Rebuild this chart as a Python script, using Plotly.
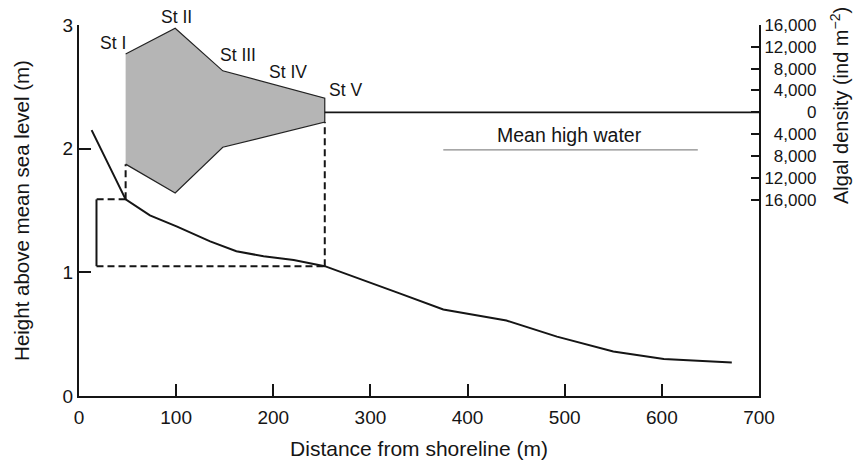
import plotly.graph_objects as go

# ---- data ----
distance = [13, 48, 73, 101, 135, 162, 190, 221, 253, 289, 330, 375, 440, 492, 550, 602, 672]
height = [2.15, 1.59, 1.46, 1.37, 1.25, 1.17, 1.13, 1.10, 1.05, 0.95, 0.83, 0.70, 0.61, 0.48, 0.36, 0.30, 0.27]

stations = ["St I", "St II", "St III", "St IV", "St V"]
station_x = [48, 99, 148, 200, 253]
density_upper = [10700, 15400, 7600, 5100, 2600]
density_lower = [9500, 14800, 6400, 4100, 1800]

mhw_x = [375, 637]
mhw_height = 1.99
bracket_x = 18

x_ticks = [0, 100, 200, 300, 400, 500, 600, 700]
height_ticks = [0, 1, 2, 3]
density_ticks = [16000, 12000, 8000, 4000, 0, -4000, -8000, -12000, -16000]
density_labels = ["16,000", "12,000", "\u20078,000", "\u20074,000", "\u2007\u2007\u2008\u2007\u20070",
                  "\u20074,000", "\u20078,000", "12,000", "16,000"]

HEIGHT_RANGE = [0, 3]
DENSITY_RANGE = [-52000, 16000]
X_RANGE = [0, 700]

FONT = "Liberation Sans, Arial, sans-serif"
INK = "#151515"


def density_to_height(d):
    """Map a density value on the right axis to the left (height) axis scale."""
    return HEIGHT_RANGE[0] + (d - DENSITY_RANGE[0]) / (DENSITY_RANGE[1] - DENSITY_RANGE[0]) * (
        HEIGHT_RANGE[1] - HEIGHT_RANGE[0])


fig = go.Figure()

# density polygon (upper positive, lower mirrored)
poly_x = station_x + station_x[::-1]
poly_y = density_upper + [-v for v in density_lower[::-1]]
fig.add_trace(go.Scatter(x=poly_x, y=poly_y, yaxis="y2", fill="toself", mode="lines",
                         fillcolor="#b5b5b5", line=dict(color="#222222", width=1.2),
                         hoverinfo="skip", showlegend=False))

# zero line of density axis from St V to right axis
fig.add_trace(go.Scatter(x=[station_x[-1], X_RANGE[1]], y=[0, 0], yaxis="y2", mode="lines",
                         line=dict(color=INK, width=1.8), hoverinfo="skip", showlegend=False))

# profile
fig.add_trace(go.Scatter(x=distance, y=height, mode="lines",
                         line=dict(color=INK, width=2), showlegend=False))

# mean high water line
fig.add_trace(go.Scatter(x=mhw_x, y=[mhw_height, mhw_height], mode="lines",
                         line=dict(color="#8a8a8a", width=1.4), showlegend=False))

# profile heights at St I and St V
h_first = height[distance.index(station_x[0])]
h_last = height[distance.index(station_x[-1])]

dash = dict(color=INK, width=2, dash="7px,4px")
# St I connector
fig.add_trace(go.Scatter(x=[station_x[0], station_x[0]],
                         y=[h_first, density_to_height(-density_lower[0])],
                         mode="lines", line=dash, showlegend=False))
# St V connector
fig.add_trace(go.Scatter(x=[station_x[-1], station_x[-1]],
                         y=[h_last, density_to_height(-density_lower[-1])],
                         mode="lines", line=dash, showlegend=False))
# bracket horizontals
fig.add_trace(go.Scatter(x=[station_x[0], bracket_x], y=[h_first, h_first],
                         mode="lines", line=dash, showlegend=False))
fig.add_trace(go.Scatter(x=[bracket_x, station_x[-1]], y=[h_last, h_last],
                         mode="lines", line=dash, showlegend=False))
# bracket solid vertical
fig.add_trace(go.Scatter(x=[bracket_x, bracket_x], y=[h_first, h_last], mode="lines",
                         line=dict(color=INK, width=2), showlegend=False))

# station labels (offsets in pixels from each station's upper vertex)
shifts = [(-13, 11), (1, 11), (15, 16), (15, 12), (21, 8)]
for name, sx, sy, (dx, dy) in zip(stations, station_x, density_upper, shifts):
    fig.add_annotation(x=sx, y=sy, xref="x", yref="y2", text=name, showarrow=False,
                       xshift=dx, yshift=dy, font=dict(size=17.5, color=INK, family=FONT))

fig.add_annotation(x=505, y=2.11, xref="x", yref="y", text="Mean high water", showarrow=False,
                   font=dict(size=19.5, color=INK, family=FONT))

# right axis title (placed in pixels, converted to paper fraction)
ML, MR, MT, MB = 79, 103, 25, 67
W, H = 862, 463
plot_w = W - ML - MR
plot_h = H - MT - MB
fig.add_annotation(x=(839 - ML) / plot_w, y=(H - MB - 106) / plot_h, xref="paper", yref="paper",
                   xanchor="center", yanchor="middle",
                   text="Algal density (ind m<sup>\u22122</sup>)",
                   showarrow=False, textangle=-90, font=dict(size=20, color=INK, family=FONT))

fig.update_layout(
    width=W, height=H,
    margin=dict(l=ML, r=MR, t=MT, b=MB, autoexpand=False),
    paper_bgcolor="white", plot_bgcolor="white",
    font=dict(family=FONT, color=INK, size=16),
    showlegend=False,
    xaxis=dict(range=X_RANGE, tickvals=x_ticks, ticks="inside", ticklen=12, tickwidth=1.6,
               tickcolor=INK, showline=True, linecolor=INK, linewidth=2, automargin=False,
               showgrid=False, zeroline=False, tickfont=dict(size=19), ticklabelstandoff=3,
               title=dict(text="Distance from shoreline (m)", font=dict(size=21), standoff=15)),
    yaxis=dict(range=HEIGHT_RANGE, tickvals=height_ticks, ticks="inside", ticklen=12, tickwidth=1.6,
               tickcolor=INK, showline=True, linecolor=INK, linewidth=2, automargin=False,
               showgrid=False, zeroline=False, tickfont=dict(size=19),
               title=dict(text="Height above mean sea level (m)", font=dict(size=20.5), standoff=27)),
    yaxis2=dict(range=DENSITY_RANGE, overlaying="y", side="right", anchor="x",
                tickvals=density_ticks, ticktext=density_labels, ticks="inside", ticklen=8,
                tickwidth=1.6, tickcolor=INK, showline=True, linecolor=INK, linewidth=2,
                automargin=False, showgrid=False, zeroline=False, tickfont=dict(size=17)),
)

fig.write_html("out.html")
